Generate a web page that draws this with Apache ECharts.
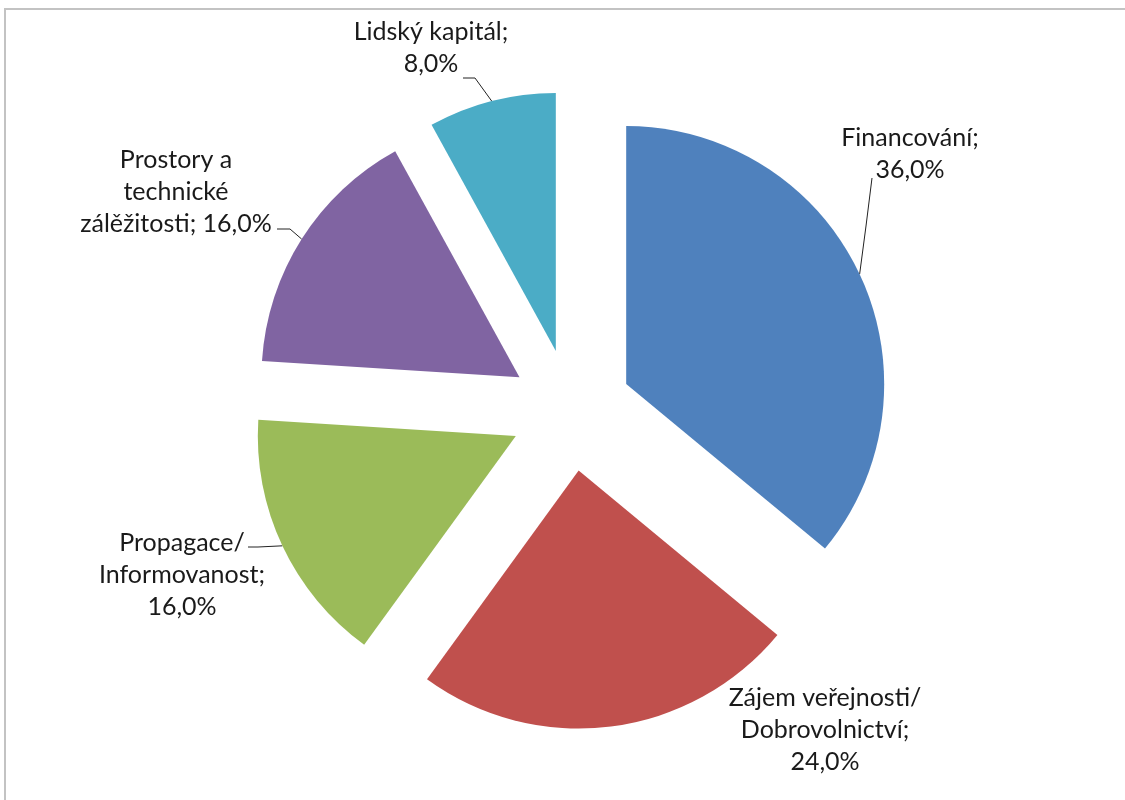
<!DOCTYPE html>
<html>
<head>
<meta charset="utf-8">
<script src="https://cdn.jsdelivr.net/npm/echarts@6/dist/echarts.min.js"></script>
<style>
  html, body { margin: 0; padding: 0; background: #fff; }
  #frame { position: absolute; left: 4px; top: 8px; width: 1121px; height: 792px;
           border-top: 2px solid #c3c3c3; border-left: 2px solid #c3c3c3; box-sizing: border-box; }
  #chart { position: absolute; left: 0; top: 0; width: 1125px; height: 800px; }
</style>
</head>
<body>
<div id="frame"></div>
<div id="chart"></div>
<script>
// Data
const categories = [
  'Financování',
  'Zájem veřejnosti/Dobrovolnictví',
  'Propagace/Informovanost',
  'Prostory a technické zálěžitosti',
  'Lidský kapitál'
];
const values = [36.0, 24.0, 16.0, 16.0, 8.0];
const colors = ['#4F81BD', '#C0504D', '#9BBB59', '#8064A2', '#4BACC6'];

// Label wrapping as in the original (text lines)
const labelTemplates = [
  'Financování;\n{v}',
  'Zájem veřejnosti/\nDobrovolnictví;\n{v}',
  'Propagace/\nInformovanost;\n{v}',
  'Prostory a\ntechnické\nzálěžitosti; {v}',
  'Lidský kapitál;\n{v}'
];
// Label placement (layout only)
const labelPos = [
  [910, 154], [825, 730], [182, 575], [176, 192], [431, 48]
];
// Leader line: bend point and end point near the label (layout only); null = no line
const leaderEnds = [
  [[866, 226], [872, 178]],
  null,
  [[258, 547], [248, 547]],
  [[290, 229], [277, 229]],
  [[475, 78], [463, 78]]
];

const CX = 571, CY = 410, R = 258, EXPLODE = 61;
const total = values.reduce((a, b) => a + b, 0);
const fmt = i => labelTemplates[i].replace('{v}', values[i].toFixed(1).replace('.', ',') + '%');

// one pie series per slice so that each slice can be exploded independently
let cum = 0;
const series = values.map((v, i) => {
  const mid = (cum + v / 2) / total * 2 * Math.PI;
  cum += v;
  const cx = CX + EXPLODE * Math.sin(mid);
  const cy = CY - EXPLODE * Math.cos(mid);
  const edge = [cx + R * Math.sin(mid), cy - R * Math.cos(mid)];
  return {
    type: 'pie',
    center: [cx, cy],
    radius: R,
    startAngle: 90,
    clockwise: true,
    emphasis: { disabled: true },
    silent: true,
    data: categories.map((c, j) => ({
      name: c, value: values[j],
      itemStyle: j === i ? { color: colors[j], borderWidth: 0 } : { color: 'rgba(0,0,0,0)', opacity: 0, borderWidth: 0 },
      label: { show: j === i },
      labelLine: { show: j === i && leaderEnds[j] !== null }
    })),
    label: {
      position: 'outside',
      fontFamily: 'Lato, "Open Sans", sans-serif',
      fontSize: 25,
      lineHeight: 32,
      color: '#1a1a1a',
      align: 'center',
      formatter: p => fmt(p.dataIndex)
    },
    labelLine: {
      length: 10,
      length2: 10,
      smooth: false,
      lineStyle: { color: '#222', width: 1 }
    },
    labelLayout: p => {
      const o = {
        x: labelPos[p.dataIndex][0],
        y: labelPos[p.dataIndex][1],
        align: 'center',
        verticalAlign: 'middle',
        hideOverlap: false
      };
      const le = leaderEnds[p.dataIndex];
      if (le) o.labelLinePoints = [edge, le[0], le[1]];
      return o;
    }
  };
});

const chart = echarts.init(document.getElementById('chart'), null, { renderer: 'canvas' });
chart.setOption({ animation: false, backgroundColor: 'transparent', series });
</script>
</body>
</html>
